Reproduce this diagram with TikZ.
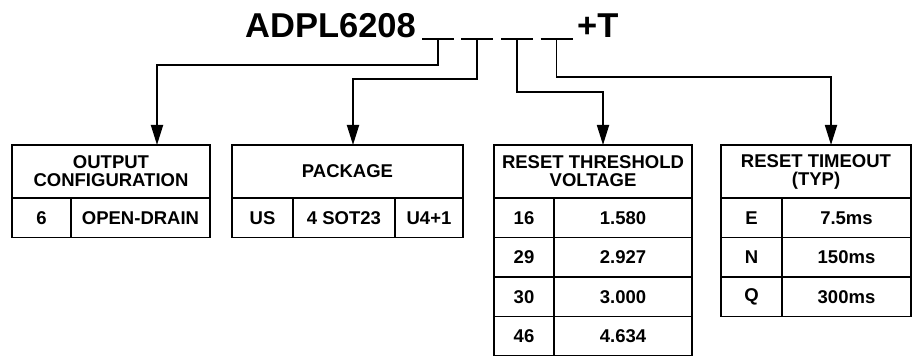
\documentclass[tikz,border=0pt]{standalone}
\usepackage{fontspec}
\setmainfont{Liberation Sans}
\usepackage{tikz}
\usetikzlibrary{arrows.meta,positioning}
\tikzset{
  partno/.style ={font=\fontsize{34.5}{40}\selectfont\bfseries, inner sep=0pt},
  slot/.style   ={minimum width=32pt, minimum height=0pt,
                  inner sep=0pt, outer sep=0pt},
  headbox/.style={draw, line width=1.8pt, align=center,
                  inner sep=0pt, outer sep=0pt,
                  minimum width=#1, minimum height=53pt,
                  font=\fontsize{18.5}{18}\selectfont\bfseries},
  cellbox/.style={draw, line width=1.8pt, inner sep=0pt, outer sep=0pt,
                  minimum width=#1, minimum height=39.5pt,
                  font=\fontsize{18.5}{18}\selectfont\bfseries},
  uline/.style  ={line width=1.8pt},
  arr/.style    ={-{Stealth[length=20pt,width=12pt,inset=0pt]}, line width=1.8pt},
}
\begin{document}
\begin{tikzpicture}[x=1pt,y=1pt]
  \useasboundingbox (0,0) rectangle (913,356);
  %% part number with its four fields
  \node[partno, anchor=base west] (part) at (245,318) {ADPL6208};
  \node[slot] (s1) at (438,317) {};
  \node[slot] (s2) at (477,317) {};
  \node[slot] (s3) at (517,317) {};
  \node[slot] (s4) at (556.5,317) {};
  \node[partno, anchor=base west] (sfx) at (577,318) {+T};
  \foreach \s in {s1,s2,s3,s4}
    \draw[uline] (\s.west) -- (\s.east);
  %% output configuration
  \node[headbox=198pt, anchor=north west] (cfg) at (12,211) {OUTPUT\\CONFIGURATION};
  \node[cellbox=59pt, below right=0pt and 0pt of cfg.south west] (cfg6) {6};
  \node[cellbox=139pt, right=0pt of cfg6] (cfgod) {OPEN-DRAIN};
  %% package
  \node[headbox=231pt, anchor=north west] (pkg) at (232,211) {PACKAGE};
  \node[cellbox=61pt, below right=0pt and 0pt of pkg.south west] (pkgus) {US};
  \node[cellbox=102pt, right=0pt of pkgus] (pkgsot) {4 SOT23};
  \node[cellbox=68pt, right=0pt of pkgsot] (pkgu4) {U4+1};
  %% reset threshold
  \node[headbox=198pt, anchor=north west] (thr) at (494,211) {RESET THRESHOLD\\VOLTAGE};
  \node[cellbox=60pt, below right=0pt and 0pt of thr.south west] (thr16) {16};
  \node[cellbox=138pt, right=0pt of thr16] (thr16v) {1.580};
  \node[cellbox=60pt, below=0pt of thr16] (thr29) {29};
  \node[cellbox=138pt, right=0pt of thr29] (thr29v) {2.927};
  \node[cellbox=60pt, below=0pt of thr29] (thr30) {30};
  \node[cellbox=138pt, right=0pt of thr30] (thr30v) {3.000};
  \node[cellbox=60pt, below=0pt of thr30] (thr46) {46};
  \node[cellbox=138pt, right=0pt of thr46] (thr46v) {4.634};
  %% reset timeout
  \node[headbox=190pt, anchor=north west] (tmo) at (721,211) {RESET TIMEOUT\\(TYP)};
  \node[cellbox=61pt, below right=0pt and 0pt of tmo.south west] (tmoE) {E};
  \node[cellbox=129pt, right=0pt of tmoE] (tmoEv) {7.5ms};
  \node[cellbox=61pt, below=0pt of tmoE] (tmoN) {N};
  \node[cellbox=129pt, right=0pt of tmoN] (tmoNv) {150ms};
  \node[cellbox=61pt, below=0pt of tmoN] (tmoQ) {Q};
  \node[cellbox=129pt, right=0pt of tmoQ] (tmoQv) {300ms};
  %% field arrows
  \draw[arr] (s1.center) -- ++(0,-26) -| ([xshift=46pt]cfg.north);
  \draw[arr] (s2.center) -- ++(0,-40) -| ([xshift=5.5pt]pkg.north);
  \draw[arr] (s3.center) -- ++(0,-53) -| ([xshift=10pt]thr.north);
  \draw[arr] (s4.center) -- ++(0,-38) -| ([xshift=15pt]tmo.north);
\end{tikzpicture}
\end{document}
